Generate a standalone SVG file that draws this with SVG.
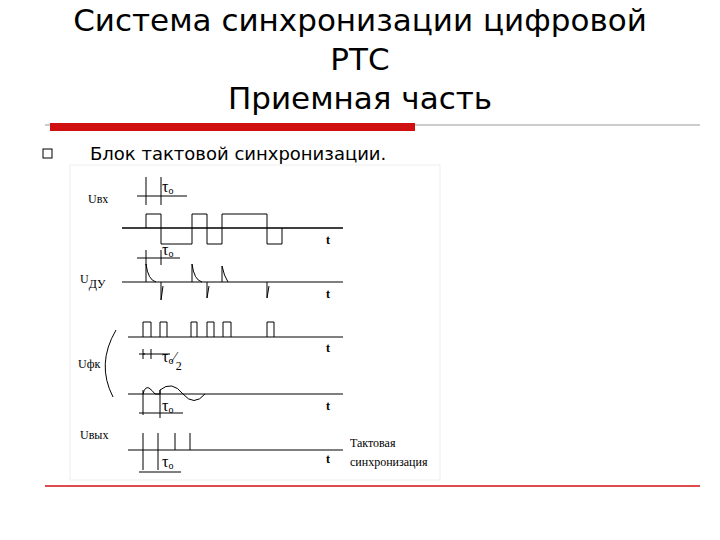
<svg xmlns="http://www.w3.org/2000/svg" width="720" height="540" viewBox="0 0 720 540">
<style>
.t{font-family:"DejaVu Sans","Liberation Sans",sans-serif;fill:#000}
.s{font-family:"Liberation Serif",serif;fill:#000}
.ln{stroke:#000;stroke-width:1;fill:none}
.ax{stroke:#000;stroke-width:1.5;fill:none}
</style>
<rect width="720" height="540" fill="#fff"/>
<g id="title">
<text class="t" x="360" y="31" font-size="31" text-anchor="middle">Система синхронизации цифровой</text>
<text class="t" x="360" y="70" font-size="31" text-anchor="middle">РТС</text>
<text class="t" x="360" y="109" font-size="31" text-anchor="middle">Приемная часть</text>
</g>
<line x1="45" y1="125" x2="700" y2="125" stroke="#999" stroke-width="1"/>
<rect x="50" y="123" width="365" height="8" fill="#d01010"/>
<line x1="45" y1="486" x2="700" y2="486" stroke="#d01010" stroke-width="1.5"/>
<rect x="43" y="149" width="9" height="9" fill="none" stroke="#000"/>
<text class="t" x="90" y="160" font-size="18">Блок тактовой синхронизации.</text>
<rect x="70" y="165" width="370" height="315" fill="none" stroke="#eee"/>
<g id="labels" class="s" font-size="12">
<text x="88" y="203">Uвх</text>
<text x="80" y="283">U<tspan dy="5">ДУ</tspan></text>
<text x="78" y="368">Uфк</text>
<text x="80" y="439">Uвых</text>
<g font-size="16">
<text x="162" y="192">τ<tspan font-size="10" dy="2">о</tspan></text>
<text x="162" y="255">τ<tspan font-size="10" dy="2">о</tspan></text>
<text x="162" y="362">τ<tspan font-size="10" dy="2">о</tspan><tspan font-size="14" dy="-2">⁄</tspan><tspan font-size="12" dy="8">2</tspan></text>
<text x="162" y="411">τ<tspan font-size="10" dy="2">о</tspan></text>
<text x="162" y="467">τ<tspan font-size="10" dy="2">о</tspan></text>
</g>
<text x="350" y="447">Тактовая</text>
<text x="350" y="466">синхронизация</text>
<g font-weight="bold"><text x="326" y="244">t</text><text x="326" y="298">t</text><text x="326" y="352">t</text><text x="326" y="410">t</text><text x="326" y="463">t</text></g>
</g>
<g id="connectors">
<line class="ax" x1="122" y1="228" x2="343" y2="228"/>
<path class="ln" d="M146 228V214H161V244H192V214H207V244H222V214H267V244H282V228"/>
<path class="ln" d="M146 177V205M146 250V265M161 177V205M161 250V265M137 196H187M137 258H180"/>
<line class="ln" x1="122" y1="282" x2="343" y2="282"/>
<path class="ln" d="M146 282V264Q148 280 156 282M192 282V264Q194 280 202 282M222 282V266Q224 276 228 282"/>
<path class="ln" d="M161 282V300L163 286M207 282V298L209 286M267 282V298L269 286"/>
<line class="ln" x1="128" y1="337" x2="343" y2="337"/>
<path class="ln" d="M143 337V322H151V337M160 337V322H167V337M191 337V322H197V337M207 337V322H214V337M223 337V322H231V337M267 337V322H274V337"/>
<path class="ln" d="M139 354H170M143 349V359M151 349V359M145 354L143 354"/>
<path class="ln" d="M116 330Q96 364 113 397"/>
<line class="ln" x1="128" y1="394" x2="343" y2="394"/>
<path class="ln" d="M143 394Q145 386 149 388Q152 390 155 394M155 394H160V390Q172 380 183 394Q194 407 205 394"/>
<path class="ln" d="M143 390V415M160 390V418M139 413H183"/>
<line class="ln" x1="128" y1="450" x2="343" y2="450"/>
<path class="ln" d="M143 433V470M158 433V470M175 433V450M190 433V450M139 472H181"/>
</g>
</svg>
